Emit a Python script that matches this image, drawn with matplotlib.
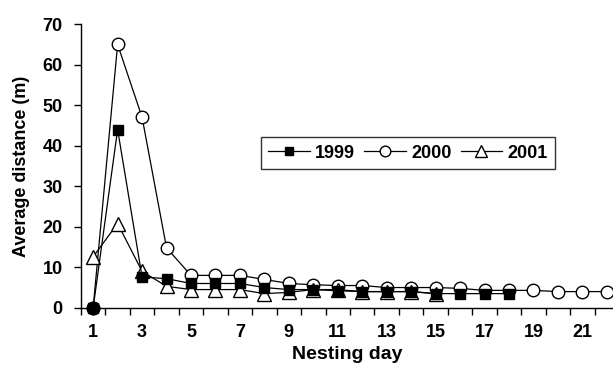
import matplotlib.pyplot as plt
from matplotlib.ticker import FixedLocator

plt.rcParams['font.family'] = ['Liberation Sans', 'DejaVu Sans']
plt.rcParams['font.weight'] = 'bold'

days_1999 = list(range(1, 19))
dist_1999 = [0, 44, 7.6, 7.2, 6, 6, 6, 5, 4.5, 4.5, 4.2, 4, 4, 4, 3.5, 3.5, 3.5, 3.5]

days_2000 = list(range(1, 23))
dist_2000 = [0, 65, 47, 14.8, 8, 8, 8, 7, 6, 5.7, 5.5, 5.5, 5, 5, 5, 4.8, 4.3, 4.3, 4.3, 4, 4, 4]

days_2001 = list(range(1, 16))
dist_2001 = [12.6, 20.8, 9, 5.3, 4.5, 4.5, 4.5, 3.5, 3.8, 4.5, 4.5, 4, 4, 4, 3.5]

x_labels = [1, 3, 5, 7, 9, 11, 13, 15, 17, 19, 21]
y_ticks = [0, 10, 20, 30, 40, 50, 60, 70]

fig = plt.figure(figsize=(6.13, 3.66), dpi=100)
ax = fig.add_axes([0.132, 0.159, 0.868, 0.775])

ax.plot(days_1999, dist_1999, color='black', lw=0.9, marker='s', ms=7,
        mfc='black', mec='black', clip_on=False, zorder=3, label='1999')
ax.plot(days_2000, dist_2000, color='black', lw=0.9, marker='o', ms=9,
        mfc='white', mec='black', mew=1.0, clip_on=False, zorder=2, label='2000')
ax.plot(days_2001, dist_2001, color='black', lw=0.9, marker='^', ms=9.5,
        mfc='white', mec='black', mew=1.0, clip_on=False, zorder=2, label='2001')

# filled dot at the origin point of day 1
ax.plot([days_1999[0]], [dist_1999[0]], 'o', color='black', ms=9, clip_on=False, zorder=4)

ax.set_xlim(0.5, 22.25)
ax.set_ylim(0, 70)
ax.set_yticks(y_ticks)
ax.set_xticks(x_labels)
ax.xaxis.set_minor_locator(FixedLocator([d + 0.5 for d in range(0, 23)]))
ax.tick_params(axis='x', which='major', length=0, pad=12, labelsize=13)
ax.tick_params(axis='x', which='minor', length=5, width=1, direction='out')
ax.tick_params(axis='y', length=5, width=1, direction='out', labelsize=13, pad=8)

for side in ['top', 'right']:
    ax.spines[side].set_visible(False)
for side in ['left', 'bottom']:
    ax.spines[side].set_linewidth(1)

ax.set_xlabel('Nesting day', fontsize=14, fontweight='bold', labelpad=3)
ax.set_ylabel('Average distance (m)', fontsize=13, fontweight='bold', labelpad=9)

leg = ax.legend(loc='center', bbox_to_anchor=(0.615, 0.545), ncol=3, frameon=True,
                fancybox=False, edgecolor='black', handlelength=2.3, columnspacing=0.5,
                handletextpad=0.3, borderpad=0.4, markerscale=0.85,
                prop={'size': 13, 'weight': 'bold'})
leg.get_frame().set_linewidth(1)

fig.savefig('out.png', dpi=100)
